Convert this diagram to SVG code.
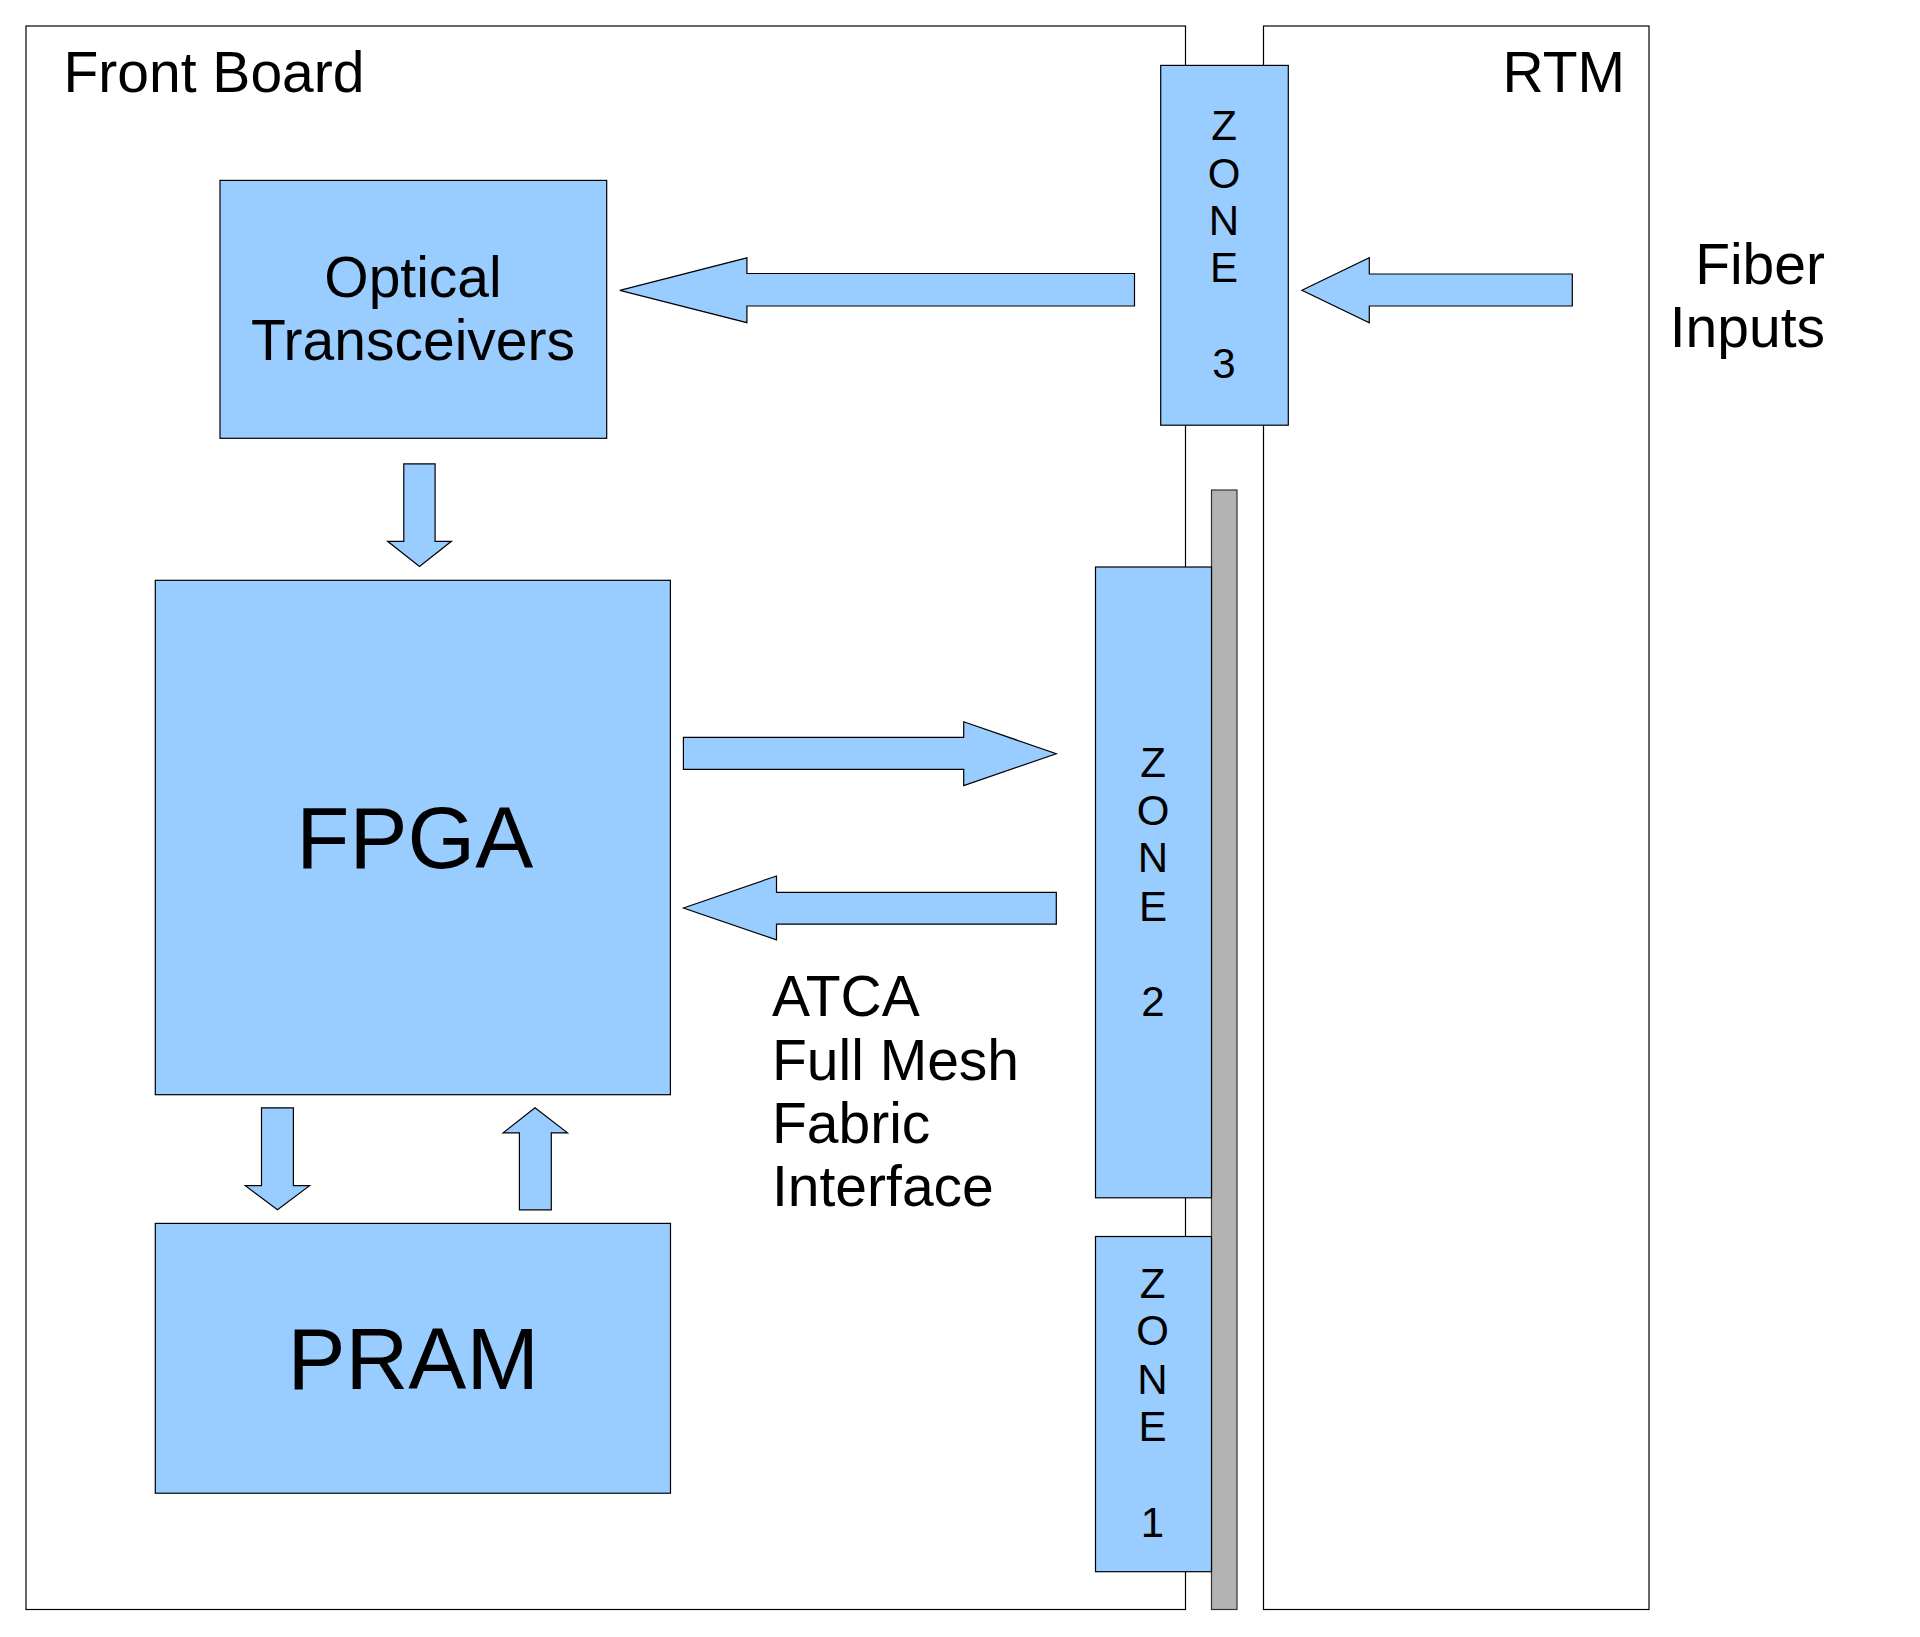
<svg xmlns="http://www.w3.org/2000/svg" width="1920" height="1637" viewBox="0 0 1920 1637">
  <style>
    .frame { fill: none; stroke: #000; stroke-width: 1.2; }
    .blk { fill: #99ccff; stroke: #000; stroke-width: 1.2; }
    .bar { fill: #b3b3b3; stroke: #333; stroke-width: 1.2; }
    .arrow { fill: #99ccff; stroke: #000; stroke-width: 1.2; stroke-linejoin: miter; }
    text { font-family: "Liberation Sans", Arial, sans-serif; fill: #000; }
    .lbl { font-size: 57px; }
    .big { font-size: 87px; text-anchor: middle; }
    .mid { font-size: 57px; text-anchor: middle; }
    .zone { font-size: 42px; text-anchor: middle; }
  </style>

  <rect width="1920" height="1637" fill="#fff"/>

  <g id="front-board">
    <rect class="frame" x="26" y="26" width="1159.5" height="1583.5"/>
    <text class="lbl" x="63.5" y="91.5">Front Board</text>
  </g>

  <g id="rtm">
    <rect class="frame" x="1263.5" y="26" width="385.5" height="1583.5"/>
    <text class="lbl" x="1625" y="91.5" text-anchor="end">RTM</text>
  </g>

  <g id="fiber-inputs">
    <text class="lbl" x="1825" y="284" text-anchor="end">Fiber</text>
    <text class="lbl" x="1825" y="347" text-anchor="end">Inputs</text>
  </g>

  <g id="backplane">
    <rect class="bar" x="1211.5" y="490" width="25.5" height="1119.5"/>
  </g>

  <g id="zone3">
    <rect class="blk" x="1160.7" y="65.4" width="127.6" height="359.8"/>
    <text class="zone" x="1224" y="140.2">Z</text>
    <text class="zone" x="1224" y="187.6">O</text>
    <text class="zone" x="1224" y="235">N</text>
    <text class="zone" x="1224" y="282.4">E</text>
    <text class="zone" x="1224" y="377.6">3</text>
  </g>

  <g id="zone2">
    <rect class="blk" x="1095.5" y="567" width="116" height="630.8"/>
    <text class="zone" x="1153" y="777.2">Z</text>
    <text class="zone" x="1153" y="824.6">O</text>
    <text class="zone" x="1153" y="872.2">N</text>
    <text class="zone" x="1153" y="920.8">E</text>
    <text class="zone" x="1153" y="1016.2">2</text>
  </g>

  <g id="zone1">
    <rect class="blk" x="1095.5" y="1236.5" width="116" height="335.2"/>
    <text class="zone" x="1152.5" y="1298">Z</text>
    <text class="zone" x="1152.5" y="1345.4">O</text>
    <text class="zone" x="1152.5" y="1393.8">N</text>
    <text class="zone" x="1152.5" y="1441">E</text>
    <text class="zone" x="1152.5" y="1537.2">1</text>
  </g>

  <g id="optical-transceivers">
    <rect class="blk" x="220" y="180.4" width="386.7" height="257.9"/>
    <text class="mid" x="413" y="296.5">Optical</text>
    <text class="mid" x="413" y="359.8">Transceivers</text>
  </g>

  <g id="fpga">
    <rect class="blk" x="155.3" y="580.3" width="515.1" height="514.4"/>
    <text class="big" x="414.8" y="867.7">FPGA</text>
  </g>

  <g id="pram">
    <rect class="blk" x="155.3" y="1223.4" width="515.2" height="269.8"/>
    <text class="big" x="413.2" y="1388.7">PRAM</text>
  </g>

  <g id="atca-label">
    <text class="lbl" x="772" y="1016.2">ATCA</text>
    <text class="lbl" x="772" y="1079.5">Full Mesh</text>
    <text class="lbl" x="772" y="1142.6">Fabric</text>
    <text class="lbl" x="772" y="1206">Interface</text>
  </g>

  <g id="connectors">
    <polygon class="arrow" points="619.8,290.3 746.9,257.8 746.9,273.5 1134.5,273.5 1134.5,306 746.9,306 746.9,322.7"/>
    <polygon class="arrow" points="1301.9,290.3 1369.3,257.8 1369.3,274 1572.3,274 1572.3,306 1369.3,306 1369.3,322.7"/>
    <polygon class="arrow" points="403.8,463.9 435.1,463.9 435.1,541.3 451.4,541.3 419.5,566.4 387.6,541.3 403.8,541.3"/>
    <polygon class="arrow" points="683.4,737.4 963.7,737.4 963.7,721.8 1056.3,753.7 963.7,785.6 963.7,769.3 683.4,769.3"/>
    <polygon class="arrow" points="683.4,908 776.5,876 776.5,892.3 1056.3,892.3 1056.3,924.2 776.5,924.2 776.5,939.8"/>
    <polygon class="arrow" points="261.5,1107.8 293.4,1107.8 293.4,1185.7 309.6,1185.7 277.5,1209.8 245.3,1185.7 261.5,1185.7"/>
    <polygon class="arrow" points="535,1107.8 567.5,1132.9 551.3,1132.9 551.3,1209.8 519.4,1209.8 519.4,1132.9 503.1,1132.9"/>
  </g>
</svg>
